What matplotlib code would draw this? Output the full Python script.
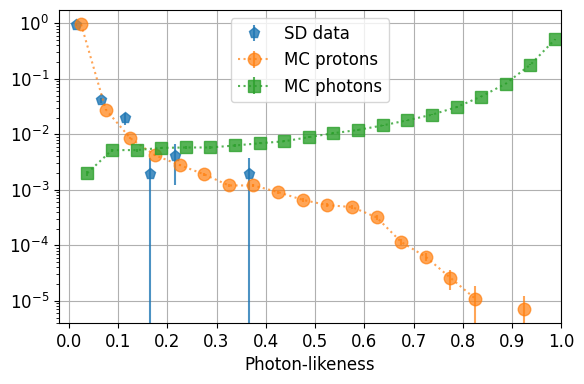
import numpy as np
import matplotlib.pyplot as plt

plt.switch_backend('Agg')

# bin centres (width 0.05)
sd_x = [0.015, 0.065, 0.115, 0.165, 0.215, 0.365]
sd_y = [0.95, 0.041, 0.0195, 0.0019, 0.004, 0.0019]
sd_err = [0.05, 0.004, 0.005, 0.0019, 0.0028, 0.0019]

pr_x = [0.025, 0.075, 0.125, 0.175, 0.225, 0.275, 0.325, 0.375, 0.425, 0.475,
        0.525, 0.575, 0.625, 0.675, 0.725, 0.775, 0.825, 0.875, 0.925]
pr_y = [0.96, 0.028, 0.0085, 0.0042, 0.0028, 0.0019, 0.0012, 0.0012, 0.00091, 0.00066,
        0.00053, 0.00049, 0.00032, 0.000115, 6.2e-5, 2.6e-5, 1.1e-5, np.nan, 7.2e-6]
pr_err = [0.005, 0.001, 0.0004, 0.0002, 0.00015, 0.0001, 7e-5, 7e-5, 6e-5, 5e-5,
          4e-5, 4e-5, 3e-5, 1.5e-5, 1e-5, 1e-5, 7.5e-6, np.nan, 5e-6]

ph_x = [0.0375, 0.0875, 0.1375, 0.1875, 0.2375, 0.2875, 0.3375, 0.3875, 0.4375, 0.4875,
        0.5375, 0.5875, 0.6375, 0.6875, 0.7375, 0.7875, 0.8375, 0.8875, 0.9375, 0.9875]
ph_y = [0.0020, 0.0052, 0.0052, 0.0057, 0.0058, 0.0058, 0.0063, 0.0069, 0.0075, 0.0089,
        0.0105, 0.012, 0.0145, 0.0179, 0.0226, 0.031, 0.048, 0.082, 0.18, 0.515]
ph_err = [0.0002, 0.0003, 0.0003, 0.0003, 0.0003, 0.0003, 0.0003, 0.0003, 0.0003, 0.0004,
          0.0004, 0.0005, 0.0005, 0.0006, 0.0007, 0.0009, 0.001, 0.0015, 0.002, 0.004]

fig, ax = plt.subplots(figsize=(5.84, 3.84), dpi=100)
fig.subplots_adjust(left=0.101, right=0.961, top=0.974, bottom=0.159)

ax.errorbar(sd_x, sd_y, yerr=sd_err, fmt='p', color='C0', alpha=0.8,
            markersize=8, label='SD data')
ax.errorbar(pr_x, pr_y, yerr=pr_err, fmt='o:', color='C1', alpha=0.7,
            markersize=9, label='MC protons')
ax.errorbar(ph_x, ph_y, yerr=ph_err, fmt='s:', color='C2', alpha=0.8,
            markersize=9, label='MC photons')

ax.set_yscale('log')
ax.set_xlim(-0.02, 1.0)
ax.set_ylim(4e-6, 1.74)
ax.set_xticks(np.arange(0, 1.01, 0.1))
ax.tick_params(labelsize=12)
ax.set_xlabel('Photon-likeness', fontsize=12)
ax.grid(True)
ax.legend(loc='upper center', fontsize=12)

fig.savefig('out.png', dpi=100)
